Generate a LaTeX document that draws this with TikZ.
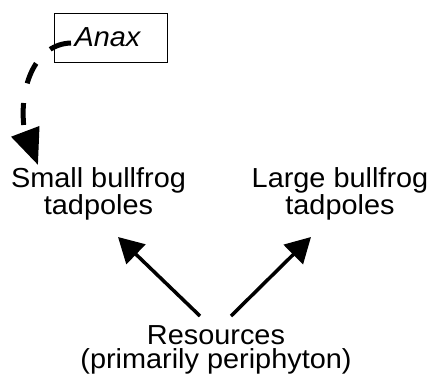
\documentclass[tikz,border=0pt]{standalone}
\usepackage{fontspec}
\setmainfont[FakeStretch=1.05]{Liberation Sans}
\usetikzlibrary{arrows.meta}
\begin{document}
\begin{tikzpicture}[x=1pt,y=-1pt,
  lbl/.style={inner sep=0pt, align=center, font=\fontsize{27.5}{24}\selectfont, anchor=base},
  boxlbl/.style={draw, line width=1pt, minimum width=113pt, minimum height=49pt, inner sep=0pt, font=\fontsize{27.5}{24}\selectfont\itshape},
  feed/.style={line width=3.5pt, -{Triangle[length=25pt,width=27pt]}},
  pred/.style={line width=5pt, dash pattern=on 22pt off 20pt, -{Triangle[length=36pt,width=29pt]}}]
\useasboundingbox (0,0) rectangle (431,384);
\node[boxlbl] (anax) at (110.5,37.5) {\hspace*{-6pt}Anax};
\node[lbl] (small) at (98.5,214) {Small bullfrog\\tadpoles};
\node[lbl] (large) at (340,214) {Large bullfrog\\tadpoles};
\node[lbl] (res) at (216,368) {Resources\\(primarily periphyton)};
\coordinate (dstart) at (71,43);
\coordinate (dbend) at (24,128);
\coordinate (dend) at (38,165);
\coordinate (rl) at (200,316);
\coordinate (rr) at (231,316);
\coordinate (tl) at (118,237);
\coordinate (tr) at (311,237);
\draw[pred] (dstart) .. controls (36,44) and (19,85) .. (dbend) -- (dend);
\draw[feed] (rl) -- (tl);
\draw[feed] (rr) -- (tr);
\end{tikzpicture}
\end{document}
